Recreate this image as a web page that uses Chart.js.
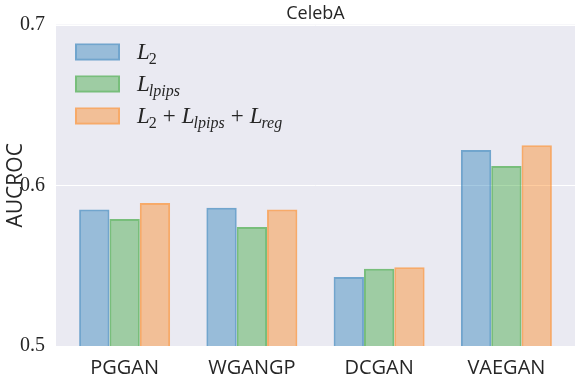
<!DOCTYPE html>
<html><head><meta charset="utf-8">
<script src="https://cdn.jsdelivr.net/npm/chart.js@4"></script>
<style>html,body{margin:0;padding:0;background:#fff}#wrap{width:581px;height:374px}</style>
</head><body><div id="wrap"><canvas id="c" width="581" height="374"></canvas></div>
<script>
const categories = ['PGGAN', 'WGANGP', 'DCGAN', 'VAEGAN'];
const seriesNames = ['L_2', 'L_lpips', 'L_2 + L_lpips + L_reg'];
const l2Values = [0.585, 0.586, 0.543, 0.622];
const lpipsValues = [0.579, 0.574, 0.548, 0.612];
const combinedValues = [0.589, 0.585, 0.549, 0.625];
const yTicks = [0.5, 0.6, 0.7];
const chartTitle = 'CelebA';
const yAxisTitle = 'AUCROC';

const textColor = '#262626';
const rgbs = ['31,119,180', '44,160,44', '255,127,14'];
const seriesValues = [l2Values, lpipsValues, combinedValues];

function drawMath(ctx, str, x, baseline) {
  const big = 'italic 23px "Liberation Serif"';
  const small = 'italic 16px "Liberation Serif"';
  const smallUp = '16px "Liberation Serif"';
  const terms = str.split(' + ');
  ctx.save();
  ctx.fillStyle = textColor;
  ctx.textBaseline = 'alphabetic';
  ctx.textAlign = 'left';
  terms.forEach((term, i) => {
    if (i > 0) {
      x += 6;
      ctx.font = '23px "Liberation Serif"';
      ctx.fillText('+', x, baseline);
      x += ctx.measureText('+').width + 6;
    }
    const [main, sub] = term.split('_');
    ctx.font = big;
    ctx.fillText(main, x, baseline);
    x += ctx.measureText(main).width;
    if (sub) {
      ctx.font = /^\d+$/.test(sub) ? smallUp : small;
      x -= 1;
      ctx.fillText(sub, x, baseline + 5);
      x += ctx.measureText(sub).width;
    }
  });
  ctx.restore();
}

const bgPlugin = {
  id: 'bg',
  beforeDraw(chart) {
    const { ctx, chartArea: a } = chart;
    const y = chart.scales.y;
    const ext = 5;
    ctx.save();
    ctx.fillStyle = '#eaeaf2';
    ctx.fillRect(a.left - ext, a.top, a.right - a.left + 2 * ext, a.bottom - a.top);
    ctx.strokeStyle = '#ffffff';
    ctx.lineWidth = 1;
    y.ticks.forEach(t => {
      const py = Math.round(y.getPixelForValue(t.value)) + 0.5;
      ctx.beginPath();
      ctx.moveTo(a.left - ext, py);
      ctx.lineTo(a.right + ext, py);
      ctx.stroke();
    });
    ctx.restore();
  }
};

const legendPlugin = {
  id: 'mathLegend',
  afterDatasetsDraw(chart) {
    const ctx = chart.ctx, a = chart.chartArea;
    const x0 = a.left + 14, y0 = a.top + 19, rowH = 32, bw = 45, bh = 17, b = 2;
    chart.data.datasets.forEach((ds, i) => {
      const top = y0 + i * rowH;
      ctx.save();
      ctx.beginPath();
      ctx.rect(x0, top, bw, bh);
      ctx.rect(x0 + b, top + b, bw - 2 * b, bh - 2 * b);
      ctx.fillStyle = ds.borderColor;
      ctx.fill('evenodd');
      ctx.fillStyle = ds.backgroundColor;
      ctx.fillRect(x0 + b, top + b, bw - 2 * b, bh - 2 * b);
      ctx.restore();
      drawMath(ctx, ds.label, x0 + bw + 17, top + bh / 2 + 7);
    });
  }
};

new Chart(document.getElementById('c'), {
  type: 'bar',
  data: {
    labels: categories,
    datasets: seriesNames.map((name, i) => ({
      label: name,
      data: seriesValues[i],
      backgroundColor: `rgba(${rgbs[i]},0.4)`,
      borderColor: `rgba(${rgbs[i]},0.6)`,
      borderWidth: 2,
      categoryPercentage: 0.715,
      barPercentage: 1.0
    }))
  },
  options: {
    responsive: false,
    animation: false,
    devicePixelRatio: 1,
    layout: { padding: { left: 0, right: 11, top: 0, bottom: 0 } },
    plugins: {
      legend: { display: false },
      tooltip: { enabled: false },
      title: {
        display: true,
        text: chartTitle,
        fullSize: false,
        color: textColor,
        font: { family: '"Open Sans"', size: 18, weight: 'normal', lineHeight: 1.2 },
        padding: { top: 3, bottom: 0 }
      }
    },
    scales: {
      x: {
        grid: { display: false },
        border: { display: false },
        ticks: { color: textColor, padding: 2, font: { family: '"Open Sans"', size: 20 } },
        afterFit(s) { s.height = 28; }
      },
      y: {
        min: 0.5,
        max: 0.7,
        grid: { display: false },
        border: { display: false },
        afterBuildTicks(s) { s.ticks = yTicks.map(v => ({ value: v })); },
        ticks: {
          color: textColor,
          padding: 8,
          font: { family: '"Liberation Serif"', size: 20 },
          callback: v => Number(v).toFixed(1)
        },
        title: {
          display: true,
          text: yAxisTitle,
          color: textColor,
          font: { family: '"Open Sans"', size: 21, lineHeight: 1.2 },
          padding: { top: 3, bottom: 0 }
        },
        afterFit(s) { s.width = 61; }
      }
    }
  },
  plugins: [bgPlugin, legendPlugin]
});
</script>
</body></html>
